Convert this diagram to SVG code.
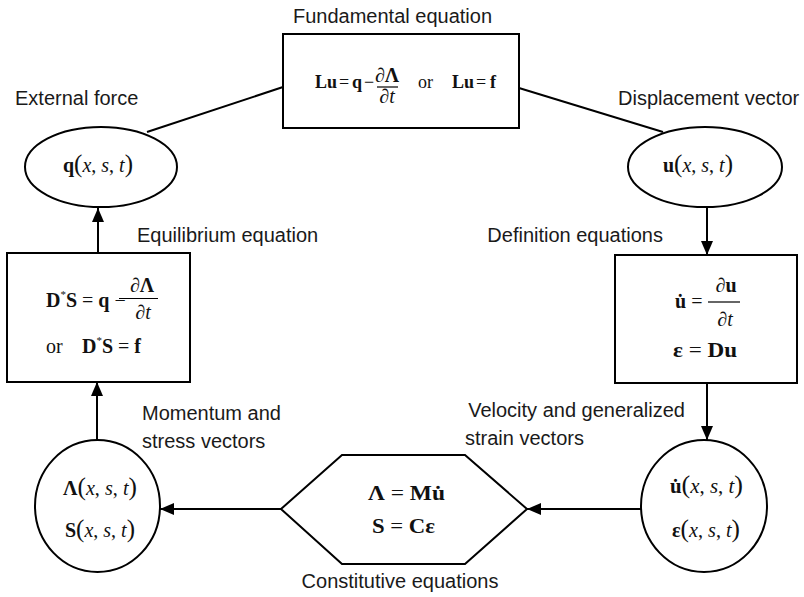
<svg xmlns="http://www.w3.org/2000/svg" width="804" height="597" viewBox="0 0 804 597">
<defs>
<style>
.lbl{font-family:"Liberation Sans",Arial,sans-serif;font-size:20px;fill:#1a1a1a}
.m{font-family:"Liberation Serif","Times New Roman",serif;font-size:20px;fill:#111}
.t{font-size:18px}
.b{font-weight:bold}
.i{font-style:italic}
.p{font-size:25px;font-weight:normal}
.shape{fill:#fff;stroke:#000;stroke-width:2}
.edge{fill:none;stroke:#000;stroke-width:2}
.bar{stroke:#000;stroke-width:1.2}
</style>
<marker id="ah" viewBox="0 0 14 12" refX="14" refY="6" markerWidth="14" markerHeight="12" markerUnits="userSpaceOnUse" orient="auto">
<path d="M0,0 L14,6 L0,12 z" fill="#000"/>
</marker>
</defs>
<rect width="804" height="597" fill="#fff"/>

<g id="connectors">
<line class="edge" x1="283" y1="87" x2="147" y2="132"/>
<line class="edge" x1="519" y1="88" x2="663" y2="132"/>
<line class="edge" x1="98" y1="253" x2="98" y2="208" marker-end="url(#ah)"/>
<line class="edge" x1="97" y1="440" x2="97" y2="382" marker-end="url(#ah)"/>
<line class="edge" x1="707" y1="208" x2="707" y2="255" marker-end="url(#ah)"/>
<line class="edge" x1="707" y1="383" x2="707" y2="440" marker-end="url(#ah)"/>
<line class="edge" x1="641" y1="509" x2="527" y2="509" marker-end="url(#ah)"/>
<line class="edge" x1="281" y1="509" x2="160" y2="509" marker-end="url(#ah)"/>
</g>

<g id="fundamental">
<rect class="shape" x="283" y="34" width="236" height="94"/>
<text class="lbl" x="293" y="23">Fundamental equation</text>
<text class="m t b" x="315" y="88">Lu</text>
<text class="m t" x="339" y="88">=</text>
<text class="m t b" x="352" y="88">q</text>
<text class="m t" x="364" y="88">−</text>
<text class="m" x="387" y="82" text-anchor="middle" font-size="16">∂<tspan class="b">Λ</tspan></text>
<line class="bar" x1="377" y1="87" x2="398" y2="87"/>
<text class="m" x="387" y="103" text-anchor="middle" font-size="16">∂<tspan class="i">t</tspan></text>
<text class="m t" x="418" y="88">or</text>
<text class="m t b" x="452" y="88">Lu</text>
<text class="m t" x="476" y="88">=</text>
<text class="m t b" x="490" y="88">f</text>
</g>

<g id="external-force">
<ellipse class="shape" cx="101" cy="167" rx="76" ry="40"/>
<text class="lbl" x="15" y="105">External force</text>
<text class="m" x="63" y="172" textLength="70" lengthAdjust="spacingAndGlyphs"><tspan class="b">q</tspan><tspan class="p">(</tspan><tspan class="i">x</tspan>, <tspan class="i">s</tspan>, <tspan class="i">t</tspan><tspan class="p">)</tspan></text>
</g>

<g id="displacement">
<ellipse class="shape" cx="705" cy="167" rx="77" ry="40"/>
<text class="lbl" x="618" y="105">Displacement vector</text>
<text class="m" x="663" y="172" textLength="70" lengthAdjust="spacingAndGlyphs"><tspan class="b">u</tspan><tspan class="p">(</tspan><tspan class="i">x</tspan>, <tspan class="i">s</tspan>, <tspan class="i">t</tspan><tspan class="p">)</tspan></text>
</g>

<g id="equilibrium">
<rect class="shape" x="7" y="253" width="183" height="129"/>
<text class="lbl" x="137" y="242">Equilibrium equation</text>
<text class="m" x="46" y="307" font-size="19"><tspan class="b">D</tspan><tspan font-size="11" dy="-9">*</tspan><tspan class="b" dy="9">S</tspan> = <tspan class="b">q</tspan> −</text>
<line class="bar" x1="119" y1="298.5" x2="158" y2="298.5"/>
<text class="m" x="142" y="292" text-anchor="middle">∂<tspan class="b">Λ</tspan></text>
<text class="m" x="143" y="319" text-anchor="middle">∂<tspan class="i">t</tspan></text>
<text class="m" x="46" y="353">or</text>
<text class="m" x="82" y="353" font-size="19"><tspan class="b">D</tspan><tspan font-size="11" dy="-9">*</tspan><tspan class="b" dy="9">S</tspan> = <tspan class="b">f</tspan></text>
</g>

<g id="definition">
<rect class="shape" x="615" y="255" width="182" height="128"/>
<text class="lbl" x="663" y="242" text-anchor="end">Definition equations</text>
<text class="m" x="675" y="308"><tspan class="b">u̇</tspan> =</text>
<line class="bar" x1="708" y1="302" x2="740" y2="302"/>
<text class="m" x="726" y="292" text-anchor="middle">∂<tspan class="b">u</tspan></text>
<text class="m" x="725" y="326" text-anchor="middle">∂<tspan class="i">t</tspan></text>
<text class="m" x="673" y="357" textLength="64" lengthAdjust="spacingAndGlyphs"><tspan class="b">ε</tspan> = <tspan class="b">Du</tspan></text>
</g>

<g id="momentum-stress">
<ellipse class="shape" cx="97.5" cy="506" rx="62.5" ry="66"/>
<text class="lbl" x="142" y="420">Momentum and</text>
<text class="lbl" x="142" y="448">stress vectors</text>
<text class="m" x="63" y="495" textLength="74" lengthAdjust="spacingAndGlyphs"><tspan class="b">Λ</tspan><tspan class="p">(</tspan><tspan class="i">x</tspan>, <tspan class="i">s</tspan>, <tspan class="i">t</tspan><tspan class="p">)</tspan></text>
<text class="m" x="65" y="537" textLength="70" lengthAdjust="spacingAndGlyphs"><tspan class="b">S</tspan><tspan class="p">(</tspan><tspan class="i">x</tspan>, <tspan class="i">s</tspan>, <tspan class="i">t</tspan><tspan class="p">)</tspan></text>
</g>

<g id="velocity-strain">
<ellipse class="shape" cx="704" cy="506" rx="63" ry="66"/>
<text class="lbl" x="685" y="417" text-anchor="end">Velocity and generalized</text>
<text class="lbl" x="465" y="445">strain vectors</text>
<text class="m" x="670" y="493" textLength="73" lengthAdjust="spacingAndGlyphs"><tspan class="b">u̇</tspan><tspan class="p">(</tspan><tspan class="i">x</tspan>, <tspan class="i">s</tspan>, <tspan class="i">t</tspan><tspan class="p">)</tspan></text>
<text class="m" x="672" y="537" textLength="68" lengthAdjust="spacingAndGlyphs"><tspan class="b">ε</tspan><tspan class="p">(</tspan><tspan class="i">x</tspan>, <tspan class="i">s</tspan>, <tspan class="i">t</tspan><tspan class="p">)</tspan></text>
</g>

<g id="constitutive">
<polygon class="shape" points="281,509 342,455 465,455 527,509 465,564 342,564"/>
<text class="lbl" x="400" y="588" text-anchor="middle">Constitutive equations</text>
<text class="m" x="368" y="500" textLength="77" lengthAdjust="spacingAndGlyphs"><tspan class="b">Λ</tspan> = <tspan class="b">Mu̇</tspan></text>
<text class="m" x="372" y="533" textLength="63" lengthAdjust="spacingAndGlyphs"><tspan class="b">S</tspan> = <tspan class="b">Cε</tspan></text>
</g>
</svg>
